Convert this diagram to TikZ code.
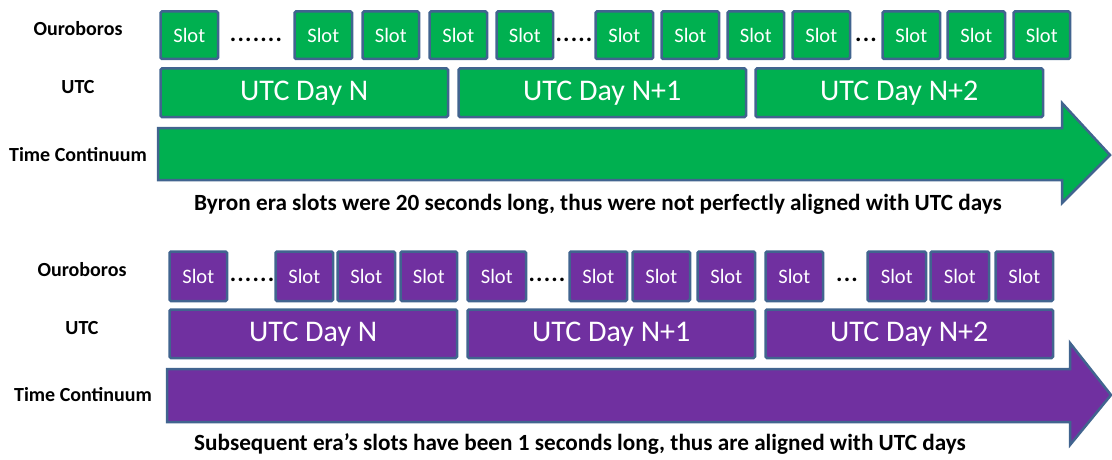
\documentclass[tikz,border=0pt]{standalone}
\usepackage{fontspec}
\setmainfont{Carlito}
\definecolor{slotgreen}{HTML}{00B050}
\definecolor{slotpurple}{HTML}{7030A0}
\definecolor{edgeblue}{HTML}{41648F}
\tikzset{
  blk/.style={draw=edgeblue, line width=2.5pt, rounded corners=1.5pt, inner sep=0pt, anchor=north west},
  slottext/.style={font=\fontsize{20.5}{20.5}\selectfont, text=white},
  daytext/.style={font=\fontsize{30}{30}\selectfont, text=white},
  rowlabel/.style={font=\bfseries\fontsize{20}{20}\selectfont},
  caption/.style={font=\bfseries\fontsize{23.2}{23.2}\selectfont},
  dotrow/.style={font=\bfseries\addfontfeature{LetterSpace=5}\fontsize{24}{24}\selectfont, inner sep=0pt},
  timearrow/.style={draw=edgeblue, line width=2.5pt},
}
\begin{document}
\begin{tikzpicture}[x=1pt, y=-1pt]
\useasboundingbox (0,0) rectangle (1112,460);

% ---------- Byron era ----------
\node[rowlabel] (ouroA) at (78,29) {Ouroboros};
\node[rowlabel] (utcA) at (78,87) {UTC};
\node[rowlabel] (timeA) at (78,155) {Time Continuum};

\foreach \a/\b [count=\i] in {158/218,292/352,360/419,427/487,494/553,593/653,659/719,725/784,790/850,880/940,945/1005,1011/1070}
  \node[blk, fill=slotgreen, minimum width={\b-\a-2.5}, minimum height=47.5]
    (sa\i) at ({\a+1.25},10.25) {};
\foreach \i in {1,...,12} \node[slottext] at (sa\i.center) {Slot};

\node[dotrow] (dA1) at (256,40) {.......};
\node[dotrow] (dA2) at (574,40) {.....};
\node[dotrow] (dA3) at (866,40) {...};

\foreach \a/\b [count=\i] in {158/448,456/746,753/1043}
  \node[blk, fill=slotgreen, minimum width={\b-\a-2.5}, minimum height=48.5]
    (ua\i) at ({\a+1.25},67.25) {};
\node[daytext] at (ua1.center) {UTC Day N};
\node[daytext] at (ua2.center) {UTC Day N+1};
\node[daytext] at (ua3.center) {UTC Day N+2};

\draw[timearrow, fill=slotgreen] (158,128) -- (1062,128) -- (1062,103) -- (1110,155)
  -- (1062,203) -- (1062,180) -- (158,180) -- cycle;

\node[caption] (capA) at (598,204) {Byron era slots were 20 seconds long, thus were not perfectly aligned with UTC days};

% ---------- Subsequent eras ----------
\node[rowlabel] (ouroB) at (82,270) {Ouroboros};
\node[rowlabel] (utcB) at (82,328) {UTC};
\node[rowlabel] (timeB) at (83,395) {Time Continuum};

\foreach \a/\b [count=\i] in {167/227,273/333,335/395,398/457,465/526,567/627,630/690,695/755,763/823,865/926,928/989,993/1053}
  \node[blk, fill=slotpurple, minimum width={\b-\a-2.5}, minimum height=49.5]
    (sb\i) at ({\a+1.25},250.25) {};
\foreach \i in {1,...,12} \node[slottext] at (sb\i.center) {Slot};

\node[dotrow] (dB1) at (252,280) {......};
\node[dotrow] (dB2) at (547,280) {.....};
\node[dotrow] (dB3) at (847,280) {...};

\foreach \a/\b [count=\i] in {167/457,465/755,763/1053}
  \node[blk, fill=slotpurple, minimum width={\b-\a-2.5}, minimum height=48.5]
    (ub\i) at ({\a+1.25},308.25) {};
\node[daytext] at (ub1.center) {UTC Day N};
\node[daytext] at (ub2.center) {UTC Day N+1};
\node[daytext] at (ub3.center) {UTC Day N+2};

\draw[timearrow, fill=slotpurple] (167,369) -- (1070,369) -- (1070,343) -- (1111,395)
  -- (1070,445) -- (1070,422) -- (167,422) -- cycle;

\node[caption] (capB) at (580,444) {Subsequent era’s slots have been 1 seconds long, thus are aligned with UTC days};
\end{tikzpicture}
\end{document}
